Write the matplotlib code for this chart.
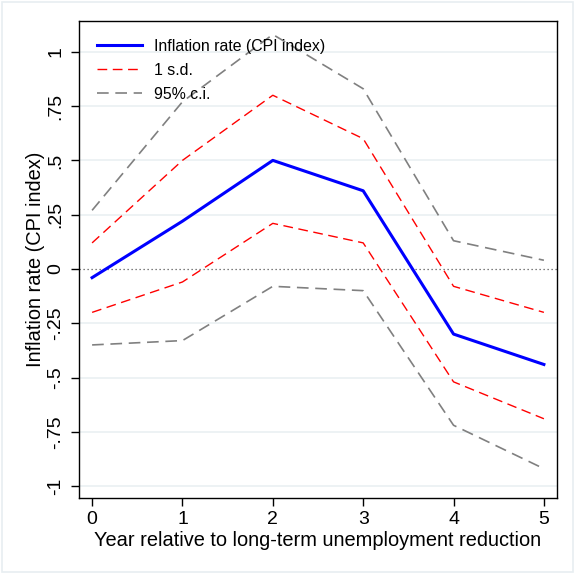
import matplotlib.pyplot as plt
from matplotlib.patches import Rectangle

plt.rcParams['font.family'] = ['Liberation Sans', 'DejaVu Sans']

# event-time estimates with confidence bands
years = [0, 1, 2, 3, 4, 5]
inflation = [-0.04, 0.22, 0.50, 0.36, -0.30, -0.44]
sd_upper = [0.12, 0.50, 0.80, 0.60, -0.08, -0.20]
sd_lower = [-0.20, -0.06, 0.21, 0.12, -0.52, -0.69]
ci_upper = [0.27, 0.77, 1.08, 0.83, 0.13, 0.04]
ci_lower = [-0.35, -0.33, -0.08, -0.10, -0.72, -0.92]

y_ticks = [-1, -0.75, -0.5, -0.25, 0, 0.25, 0.5, 0.75, 1]
y_labels = ['-1', '-.75', '-.5', '-.25', '0', '.25', '.5', '.75', '1']

fig = plt.figure(figsize=(5.75, 5.76), dpi=100)
ax = fig.add_axes([79 / 575, 1 - 498 / 576, 478 / 575, 477 / 576])

# faint outer border of the graph region
fig.patches.append(Rectangle((2 / 575, 4 / 576), 571 / 575, 570 / 576,
                             transform=fig.transFigure, fill=False,
                             edgecolor='#e8eef1', linewidth=1.2))

for t in y_ticks:
    if t != 0:
        ax.axhline(t, color='#eaf0f2', linewidth=1.2, zorder=0)
ax.axhline(0, color='#555555', linewidth=0.9, linestyle=(0, (1, 2.2)), zorder=1)

ax.plot(years, inflation, color='#0000ff', linewidth=2.2, label='Inflation rate (CPI index)', zorder=4)
ax.plot(years, sd_upper, color='#ff0000', linewidth=1.0, dashes=(7, 4), label='1 s.d.', zorder=3)
ax.plot(years, sd_lower, color='#ff0000', linewidth=1.0, dashes=(7, 4), zorder=3)
ax.plot(years, ci_upper, color='#808080', linewidth=1.2, dashes=(7, 4), label='95% c.i.', zorder=2)
ax.plot(years, ci_lower, color='#808080', linewidth=1.2, dashes=(7, 4), zorder=2)

ax.set_xlim(-0.145, 5.145)
ax.set_ylim(-1.055, 1.142)
ax.set_xticks(years)
ax.set_yticks(y_ticks)
ax.set_yticklabels(y_labels, rotation=90, va='center')
ax.tick_params(axis='both', labelsize=14, length=5.5, width=1, color='black', direction='out', pad=4)
ax.tick_params(axis='y', pad=5)
for s in ax.spines.values():
    s.set_linewidth(1.0)
    s.set_color('black')

ax.set_xlabel('Year relative to long-term unemployment reduction', fontsize=14.4, labelpad=2)
ax.set_ylabel('Inflation rate (CPI index)', fontsize=14.4, labelpad=2)

leg = ax.legend(loc='upper left', frameon=False, fontsize=11.4, handlelength=2.85,
                handletextpad=0.76, labelspacing=0.57, borderaxespad=0.72)

fig.savefig('out.png', dpi=100)
